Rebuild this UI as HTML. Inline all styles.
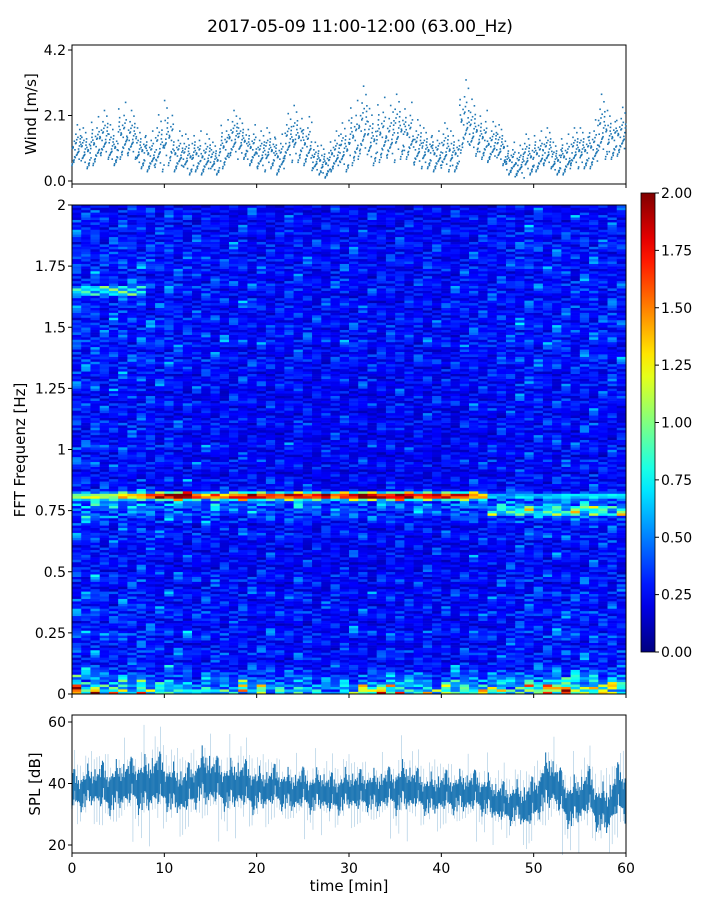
<!DOCTYPE html>
<html><head><meta charset="utf-8"><style>
body{margin:0;background:#fff;font-family:"Liberation Sans","DejaVu Sans",sans-serif}
svg text{font-family:"DejaVu Sans","Liberation Sans",sans-serif;fill:#000}
</style></head><body>
<svg id="chart" width="720" height="900" xmlns="http://www.w3.org/2000/svg">
<text x="360" y="32" font-size="17" text-anchor="middle">2017-05-09 11:00-12:00 (63.00_Hz)</text>
<g id="wind"></g>
<g id="spec"></g>
<g id="cbar"></g>
<g id="spl"></g>
</svg>
<script>
const minutes=Array.from({length:60},(_,i)=>i+0.5);
const windMean=[1.0,0.9,1.1,1.3,1.0,1.4,1.3,0.9,0.8,1.0,1.3,0.8,0.7,0.8,0.7,0.6,1.0,1.3,1.2,1.0,0.8,0.9,0.7,1.2,1.3,1.1,0.6,0.5,0.8,0.9,1.3,1.6,1.2,1.4,1.3,1.5,1.4,1.0,0.9,0.8,0.9,0.8,1.8,1.5,1.3,1.1,1.0,0.6,0.5,0.7,0.8,0.9,0.6,0.7,0.9,0.9,1.0,1.5,1.3,1.4];
const windSpread=[0.5,0.5,0.6,0.6,0.5,0.7,0.6,0.5,0.5,0.7,0.8,0.5,0.5,0.5,0.5,0.4,0.6,0.6,0.5,0.5,0.5,0.5,0.5,0.6,0.7,0.6,0.4,0.4,0.5,0.6,0.8,0.9,0.7,0.8,0.7,0.8,0.7,0.6,0.5,0.5,0.6,0.5,0.9,0.7,0.6,0.5,0.5,0.4,0.4,0.5,0.5,0.5,0.4,0.5,0.5,0.5,0.6,0.8,0.6,0.6];
const windOffsets=[-1,-0.6,-0.3,0,0.2,0.5,0.8,1,-0.8,0.35,-0.1,0.65,-0.45,0.1,1.3,-0.2,0.4,-0.7,0.9,0.05,-0.35,0.55,-0.9,0.25,1.6,-0.5,0.15,0.7,-0.15,0.45,-0.65];
const windTicks=[0.0,2.1,4.2];
const freqProfile=[0.55,0.5,0.42,0.38,0.36,0.34,0.3,0.32,0.35,0.3,0.28,0.33,0.36,0.3,0.27,0.29,0.34,0.32,0.28,0.3,0.33,0.27,0.26,0.3,0.31,0.27,0.25,0.28,0.3,0.26,0.27,0.29,0.33,0.3,0.28,0.35,0.4,0.45,0.5,0.45,0.36,0.3,0.28,0.3,0.27,0.25,0.29,0.3,0.26,0.27,0.3,0.28,0.26,0.25,0.29,0.3,0.27,0.26,0.28,0.3,0.27,0.25,0.28,0.3,0.29,0.27,0.3,0.32,0.33,0.3,0.28,0.33,0.35,0.31,0.3,0.34,0.32,0.3,0.29,0.33,0.3,0.28,0.31,0.35,0.32,0.28,0.3,0.33,0.31,0.29,0.3,0.32,0.3,0.28,0.31,0.29,0.27,0.3,0.28,0.26];
const lowBoost=[1.8,1.3,1.6,1.2,1.5,1.4,1.2,1.5,1.3,1.1,1.4,1.2,1.3,1.0,1.2,1.1,1.3,1.4,1.6,1.2,1.5,1.3,1.2,1.1,1.4,1.2,1.3,1.1,1.2,1.4,1.3,1.5,1.6,1.8,1.9,1.7,1.5,1.6,1.5,1.3,1.4,1.6,1.5,1.7,1.4,1.5,1.6,1.3,1.5,1.7,1.6,1.9,2.2,2.0,1.8,1.6,1.9,1.7,1.8,1.6];
const ridgeByCol=[0.9,0.9,1.1,1.0,1.0,1.2,1.2,1.3,1.5,1.6,1.7,1.8,1.8,1.4,1.3,1.4,1.3,1.4,1.5,1.7,1.6,1.5,1.5,1.6,1.6,1.5,1.5,1.6,1.3,1.5,1.6,1.9,1.8,1.7,1.6,1.8,1.7,1.5,1.6,1.7,1.5,1.6,1.4,1.3,1.2,0.6,0.5,0.5,0.6,0.6,0.5,0.6,0.6,0.7,0.6,0.6,0.7,0.6,0.6,0.6];
const colFactor=[1.1,1.05,1.1,1.0,1.0,1.05,1.0,1.05,1.0,0.95,1.0,0.95,0.95,0.9,0.95,0.95,0.9,0.9,0.95,0.9,0.9,0.9,0.85,0.9,0.95,0.9,0.85,0.85,0.9,0.9,0.9,0.9,0.85,0.85,0.9,0.9,0.85,0.85,0.9,0.85,0.85,0.85,0.9,0.9,0.9,0.9,0.95,0.95,1.0,1.0,1.0,0.95,1.0,1.0,0.95,1.0,1.0,0.95,1.0,0.95];
const texture=[1.0,0.7,1.4,0.85,1.2,0.6,1.1,1.6,0.8,0.95,1.3,0.65,1.05,0.9,1.5,0.75,1.15,0.55,1.25,0.9,1.0,1.8,0.7,0.85,1.1,0.5,1.35,0.95,0.8,1.2,0.6];
const splMean=[37,38,39,39,38,39,40,40,39,41,40,38,37,39,42,41,40,39,40,39,38,38,39,38,37,38,37,38,36,37,38,37,38,37,38,38,39,38,37,36,37,37,37,37,37,36,34,33,34,32,34,39,41,36,33,35,37,32,31,37];
const splSpread=[5,5,5,6,6,6,6,7,7,7,6,6,6,6,7,6,6,6,6,6,5,5,5,5,5,5,5,5,5,5,5,5,5,5,5,6,6,5,5,5,5,5,5,5,5,5,5,5,5,6,6,7,6,6,6,6,6,6,6,7];
const splTicks=[20,40,60];
const timeTicks=[0,10,20,30,40,50,60];
const freqTicks=[0,0.25,0.5,0.75,1,1.25,1.5,1.75,2];
const freqLabels=["0","0.25","0.5","0.75","1","1.25","1.5","1.75","2"];
const cbarTicks=[0,0.25,0.5,0.75,1,1.25,1.5,1.75,2];

const NS="http://www.w3.org/2000/svg";
function mk(parent,tag,attrs,txt){const e=document.createElementNS(NS,tag);for(const k in attrs)e.setAttribute(k,attrs[k]);if(txt!==undefined)e.textContent=txt;parent.appendChild(e);return e;}
const X0=72,X1=626;
const xT=t=>X0+(X1-X0)*t/60;
const T=i=>texture[((i%texture.length)+texture.length)%texture.length];
function jet(v){v=Math.max(0,Math.min(1,v));const f=x=>Math.round(255*Math.max(0,Math.min(1,1.5-Math.abs(4*v-x))));return `rgb(${f(3)},${f(2)},${f(1)})`;}

// wind
const W=document.getElementById('wind');
const wy=v=>181-(181-50)*v/4.2;
mk(W,'rect',{x:X0,y:45,width:X1-X0,height:139,fill:'none',stroke:'#000','stroke-width':1});
windMean.forEach((m,i)=>{const n=windOffsets.length;for(let j=0;j<n;j++){const o=windOffsets[(j*7+i*11)%n];const v=Math.max(0.05,m+o*windSpread[i]);const x=xT(i+((j*13+i*5)%n)/n);
const d=mk(W,'rect',{x:x-0.8,y:wy(v)-0.8,width:1.6,height:1.6,fill:'#1f77b4'});

}});
windTicks.forEach(t=>{mk(W,'line',{x1:X0-4,x2:X0,y1:wy(t),y2:wy(t),stroke:'#000'});
const l=mk(W,'text',{x:X0-6,y:wy(t)+5,'font-size':14,'text-anchor':'end'},t.toFixed(1));

});
timeTicks.forEach(t=>mk(W,'line',{x1:xT(t),x2:xT(t),y1:184,y2:188,stroke:'#000'}));
mk(W,'text',{x:36,y:114,'font-size':15,'text-anchor':'middle',transform:'rotate(-90 36 114)',},'Wind [m/s]');

// spectrogram
const S=document.getElementById('spec');
const SY0=694,SY1=205;const fy=f=>SY0-(SY0-SY1)*f/2;
const nR=200,rh=(SY0-SY1)/nR;
for(let c=0;c<60;c++){for(let r=0;r<nR;r++){
 const base=freqProfile[Math.floor(r/2)];
 let v=base*colFactor[c]*T(r*7+c*13)*Math.sqrt(T(r*3+c*5+(r*c)%11));
 if(r<10)v*=1+(lowBoost[c]-1)*(10-r)/6*T(r*5+c*2);
 if(r===80||r===81)v=Math.max(v,ridgeByCol[c]*(0.8+0.3*T(r+c*3)));
 if(r===79||r===82)v=Math.max(v,ridgeByCol[c]*0.55*T(r*2+c));
 if(c>44&&r>=73&&r<=76)v=Math.max(v,ridgeByCol[c]*1.3*T(r*5+c));
 if(c<8&&r>=163&&r<=166)v=Math.max(v,0.7*T(r+c));
 const cell=mk(S,'rect',{x:xT(c),y:SY0-(r+1)*rh,width:(X1-X0)/60+0.4,height:rh+0.3,fill:jet(v/2)});
 
 
}}
mk(S,'rect',{x:X0,y:SY1,width:X1-X0,height:SY0-SY1,fill:'none',stroke:'#000'});
freqTicks.forEach((f,i)=>{mk(S,'line',{x1:X0-4,x2:X0,y1:fy(f),y2:fy(f),stroke:'#000'});
const l=mk(S,'text',{x:X0-6,y:fy(f)+5,'font-size':14,'text-anchor':'end'},freqLabels[i]);

});
timeTicks.forEach(t=>mk(S,'line',{x1:xT(t),x2:xT(t),y1:SY0,y2:SY0+4,stroke:'#000'}));
mk(S,'text',{x:25,y:450,'font-size':15,'text-anchor':'middle',transform:'rotate(-90 25 450)',},'FFT Frequenz [Hz]');

// colorbar
const C=document.getElementById('cbar');
const CB0=652,CB1=193;const cy=v=>CB0-(CB0-CB1)*v/2;
const defs=mk(C,'defs',{});const g=mk(defs,'linearGradient',{id:'jetg',x1:0,y1:1,x2:0,y2:0});
for(let i=0;i<=20;i++)mk(g,'stop',{offset:i/20,'stop-color':jet(i/20)});
mk(C,'rect',{x:641,y:CB1,width:14,height:CB0-CB1,fill:'url(#jetg)',stroke:'#000','stroke-width':0.8});
cbarTicks.forEach(t=>{mk(C,'line',{x1:655,x2:659,y1:cy(t),y2:cy(t),stroke:'#000'});
const l=mk(C,'text',{x:661,y:cy(t)+5,'font-size':14},t.toFixed(2));

});

// SPL
const P=document.getElementById('spl');
const py=v=>845-(845-722)*(v-20)/40;
const N=600;
for(let k=0;k<N;k++){
 const t=k*60/N, i=Math.min(59,Math.floor(t)), fr=t-i, j=Math.min(59,i+1);
 const m=splMean[i]*(1-fr)+splMean[j]*fr + (T(k*7)-1)*3;
 const s=splSpread[i];
 const up=s*0.75*T(k*3+1), dn=s*0.75*T(k*5+2);
 const ln=mk(P,'line',{x1:xT(t),x2:xT(t),y1:py(m+up),y2:py(m-dn),stroke:'#1f77b4','stroke-width':1.1});
 
 
 if(k%3===0){const sp=mk(P,'line',{x1:xT(t),x2:xT(t),y1:py(m+s*1.6*T(k*11)),y2:py(m-s*1.7*T(k*13)),stroke:'#1f77b4','stroke-width':0.5,'stroke-opacity':0.5});
 
 }
}
mk(P,'rect',{x:X0,y:715,width:X1-X0,height:138,fill:'none',stroke:'#000'});
splTicks.forEach(t=>{mk(P,'line',{x1:X0-4,x2:X0,y1:py(t),y2:py(t),stroke:'#000'});
const l=mk(P,'text',{x:X0-6,y:py(t)+5,'font-size':14,'text-anchor':'end'},t);

});
timeTicks.forEach(t=>{mk(P,'line',{x1:xT(t),x2:xT(t),y1:853,y2:857,stroke:'#000'});
const l=mk(P,'text',{x:xT(t),y:873,'font-size':14,'text-anchor':'middle'},t);

});
mk(P,'text',{x:40,y:784,'font-size':15,'text-anchor':'middle',transform:'rotate(-90 40 784)',},'SPL [dB]');
mk(P,'text',{x:349,y:891,'font-size':15,'text-anchor':'middle',},'time [min]');
</script>
</body></html>
